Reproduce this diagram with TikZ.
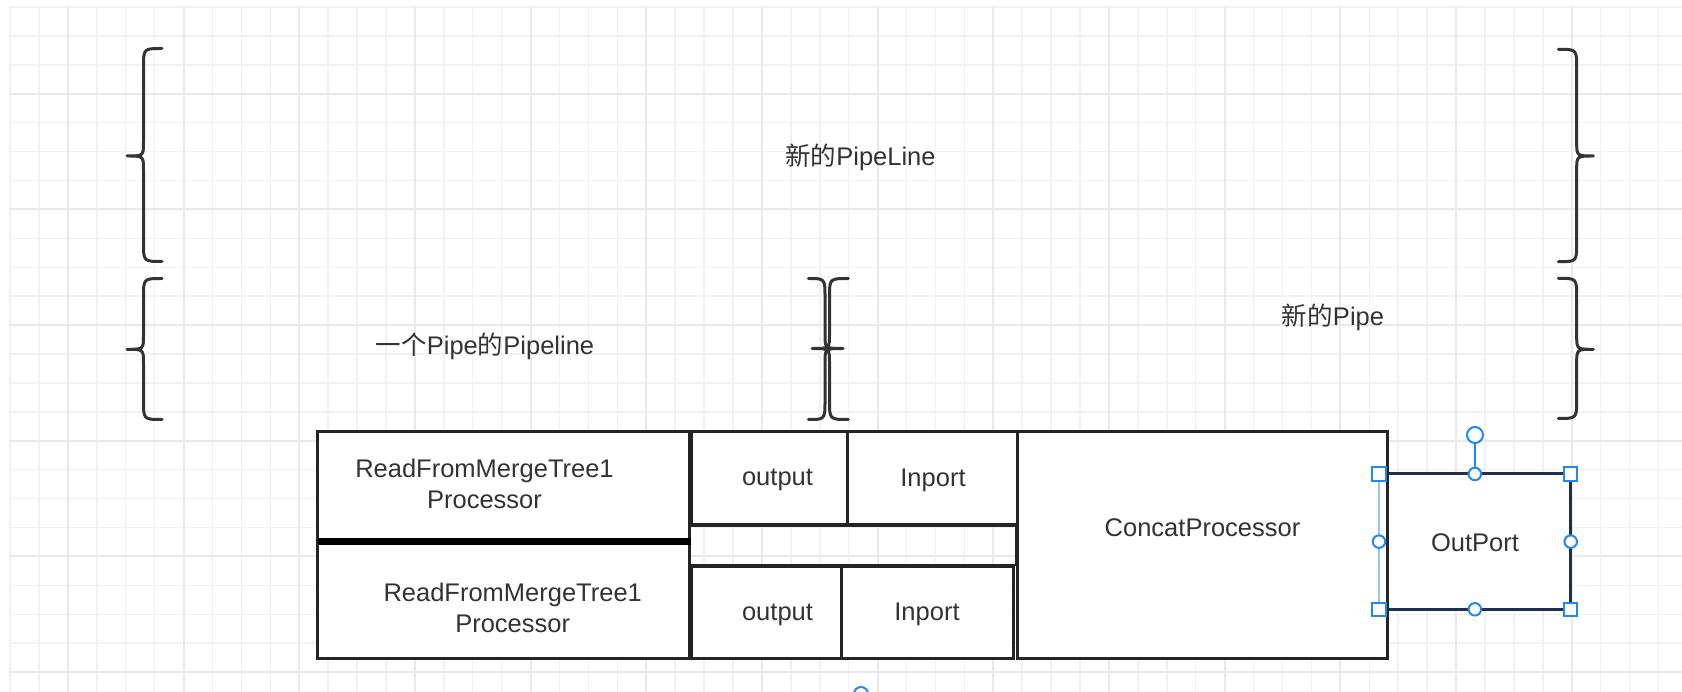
\documentclass[tikz,border=0pt]{standalone}
\usepackage{fontspec}
\setmainfont{Liberation Sans}
\newfontfamily\cjk{Noto Sans CJK SC}
\definecolor{gridminor}{RGB}{241,241,241}
\definecolor{gridmajor}{RGB}{233,233,233}
\definecolor{inkc}{RGB}{51,51,51}
\definecolor{boxc}{RGB}{36,36,36}
\definecolor{portc}{RGB}{30,48,75}
\definecolor{selblue}{RGB}{33,136,240}
\definecolor{sellight}{RGB}{150,195,245}
\tikzset{
  bracec/.style={draw=inkc, line width=3pt, line cap=round, line join=round},
  box/.style={draw=boxc, line width=3pt, fill=white, rectangle, inner sep=0pt, outer sep=0pt, anchor=north west},
  emptybox/.style={draw=boxc, line width=2.5pt, rectangle, inner sep=0pt, outer sep=0pt, anchor=north west},
  lbl/.style={text=inkc, font=\fontsize{25.5}{31}\selectfont, align=center, inner sep=0pt},
  hsq/.style={draw=selblue, fill=white, line width=2pt, rectangle, minimum size=13.5pt, inner sep=0pt},
  hci/.style={draw=selblue, fill=white, line width=2pt, circle, minimum size=12.5pt, inner sep=0pt},
  hrot/.style={draw=selblue, fill=white, line width=2pt, circle, minimum size=16pt, inner sep=0pt}
}
\newcommand\curlyb[6]{%
  \draw[bracec] (#1,#4) .. controls (#2,#4) .. (#2,{#4+19}) -- (#2,{#5-14})
    .. controls (#2,#5) .. (#3,#5) .. controls (#2,#5) .. (#2,{#5+14})
    -- (#2,{#6-19}) .. controls (#2,#6) .. (#1,#6);}
\begin{document}
\begin{tikzpicture}[x=1pt,y=-1pt]
\useasboundingbox (0,0) rectangle (1682,692);
\clip (0,0) rectangle (1682,692);
\fill[white] (0,0) rectangle (1682,692);
% grid
\foreach \k in {0,...,57} \draw[gridminor, line width=1.5pt] ({10+28.92*\k},7) -- ({10+28.92*\k},692);
\foreach \k in {0,...,23} \draw[gridminor, line width=1.5pt] (10,{7+28.92*\k}) -- (1682,{7+28.92*\k});
\foreach \k in {2,6,...,54} \draw[gridmajor, line width=2pt] ({10+28.92*\k},7) -- ({10+28.92*\k},692);
\foreach \k in {3,7,...,23} \draw[gridmajor, line width=2pt] (10,{7+28.92*\k}) -- (1682,{7+28.92*\k});
% braces
\curlyb{162}{143.5}{127}{48.5}{156}{261.5}
\curlyb{162}{143.5}{127}{278.5}{349.3}{419.5}
\curlyb{1558.3}{1576.7}{1593.3}{49.3}{156}{261.7}
\curlyb{1558.3}{1576.7}{1593.3}{278.3}{349.3}{418.5}
\curlyb{808.3}{825}{843}{278.5}{348.5}{419.5}
\curlyb{848.3}{829.5}{812}{278.5}{348.5}{419.5}
% boxes
\node[box, draw=portc, minimum width=191.7pt, minimum height=135.3pt] (outport) at (1379,474) {};
\node[box, minimum width=371.5pt, minimum height=110.2pt] (rfA) at (317.5,431.5) {};
\node[box, minimum width=371.5pt, minimum height=116.6pt] (rfB) at (317.5,541.7) {};
\node[box, minimum width=155.6pt, minimum height=92.5pt] (outA) at (691.7,431.5) {};
\node[box, minimum width=172.2pt, minimum height=92.5pt] (inA) at (847.3,431.5) {};
\node[emptybox, minimum width=326pt, minimum height=39.5pt] (midbox) at (690,525.5) {};
\node[box, minimum width=150pt, minimum height=92.3pt] (outB) at (691.7,566) {};
\node[box, minimum width=171.6pt, minimum height=92.3pt] (inB) at (841.7,566) {};
\node[box, minimum width=370pt, minimum height=227pt] (concat) at (1017.5,431.5) {};
% thick divider
\draw[black, line width=6.5pt] (rfA.south west) -- ([xshift=1.5pt]rfA.south east);
% selection overlay
\draw[sellight, line width=1.5pt] (outport.north west) -- (outport.south west);
\node[hrot] (hrot) at (1475,435) {};
\node[hci] (hT) at (outport.north) {};
\draw[selblue, line width=2pt] (hrot) -- (hT);
\node[hci] (hB) at (outport.south) {};
\node[hci] (hL) at (outport.west) {};
\node[hci] (hR) at (outport.east) {};
\node[hsq] (hNW) at (outport.north west) {};
\node[hsq] (hNE) at (outport.north east) {};
\node[hsq] (hSW) at (outport.south west) {};
\node[hsq] (hSE) at (outport.south east) {};
\node[hrot, minimum size=14pt] (hbot) at (861,694) {};
% labels
\node[lbl] (t1) at (860.5,157) {{\cjk 新的}PipeLine};
\node[lbl] (t2) at (485,346.5) {{\cjk 一个}Pipe{\cjk 的}Pipeline};
\node[lbl] (t3) at (1333,317.5) {{\cjk 新的}Pipe};
\node[lbl] (rfAt) at (484.5,484) {ReadFromMergeTree1\\Processor};
\node[lbl] (rfBt) at (512.7,608) {ReadFromMergeTree1\\Processor};
\node[lbl] (outAt) at (777.5,480) {output};
\node[lbl] (inAt) at (933,480) {Inport};
\node[lbl] (outBt) at (777.5,614.5) {output};
\node[lbl] (inBt) at (927,614.5) {Inport};
\node[lbl] (concatT) at (1202.5,528) {ConcatProcessor};
\node[lbl] (outportT) at (1475,543) {OutPort};
\end{tikzpicture}
\end{document}
